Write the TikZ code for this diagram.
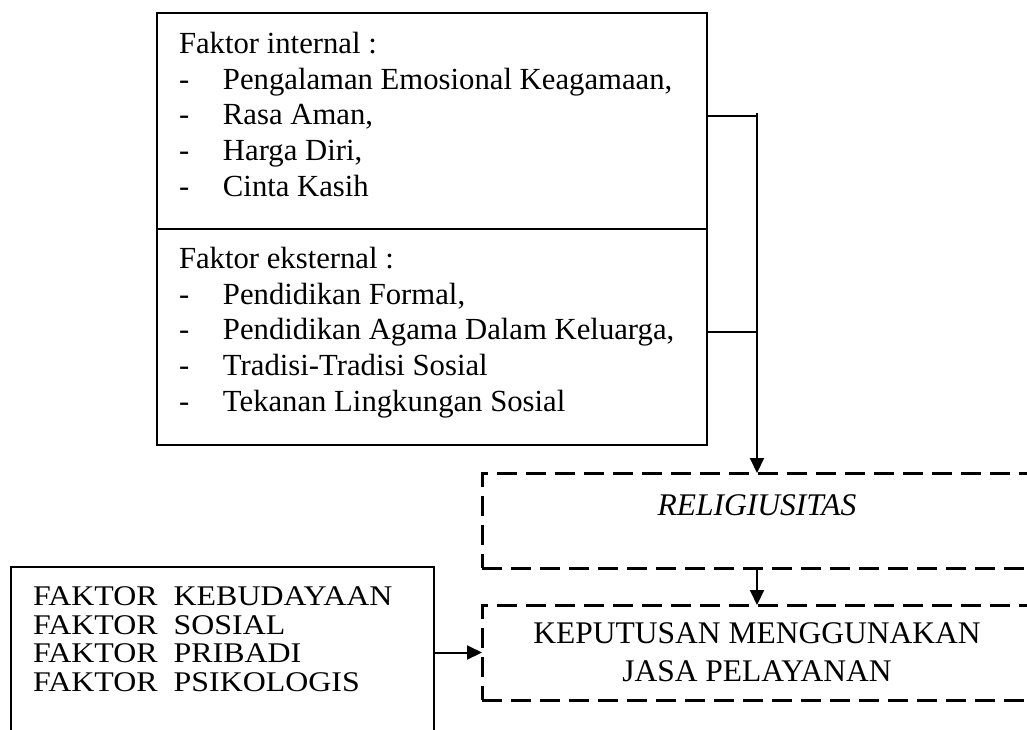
\documentclass[tikz,border=0pt]{standalone}
\usepackage{fontspec}
\setmainfont{Liberation Serif}
\newfontfamily\lebar{Liberation Serif}[FakeStretch=1.12]
\usetikzlibrary{arrows.meta}
\usetikzlibrary{positioning}
\tikzstyle{kotak} = [rectangle, draw, line width=2pt, inner sep=0pt, outer sep=0pt]
\tikzstyle{putus} = [rectangle, draw, line width=3pt, dash pattern=on 20pt off 9pt,
    inner sep=0pt, outer sep=0pt, minimum width=550pt, minimum height=95pt]
\tikzstyle{isi} = [anchor=north west, align=left, inner sep=0pt,
    font=\fontsize{30.7}{35.7}\selectfont]
\newcommand{\butir}[1]{\makebox[44pt][l]{-}#1}

\begin{document}
\begin{tikzpicture}[x=1pt,y=1pt,line width=2pt,
                    >={Triangle[length=15pt,width=14pt]}]
  \useasboundingbox (0,0) rectangle (1027,-729);
  \clip (0,0) rectangle (1027,-729);

  % faktor internal dan eksternal
  \node[kotak, anchor=north west, minimum width=550pt, minimum height=216pt] (intern) at (157,-13) {};
  \node[kotak, below=0pt of intern, minimum width=550pt, minimum height=216pt] (ekstern) {};
  \node[isi] (internteks) at (178,-31) {Faktor internal :\\
    \butir{Pengalaman Emosional Keagamaan,}\\
    \butir{Rasa Aman,}\\
    \butir{Harga Diri,}\\
    \butir{Cinta Kasih}};
  \node[isi] (eksternteks) at (178,-246) {Faktor eksternal :\\
    \butir{Pendidikan Formal,}\\
    \butir{Pendidikan Agama Dalam Keluarga,}\\
    \butir{Tradisi-Tradisi Sosial}\\
    \butir{Tekanan Lingkungan Sosial}};

  % kotak putus-putus
  \node[putus, text height=42pt, text depth=53pt,
        font=\fontsize{31.5}{38}\selectfont\itshape] (relig) at (757,-520.5) {RELIGIUSITAS};
  \node[putus, below=37pt of relig, align=center,
        font=\fontsize{31.5}{38}\selectfont] (keputusan) {KEPUTUSAN MENGGUNAKAN\\JASA PELAYANAN};

  % faktor kebudayaan dst
  \node[kotak, anchor=north west, minimum width=423pt, minimum height=200pt] (budaya) at (11,-567) {};
  \node[isi, font=\lebar\fontsize{28.5}{28.5}\selectfont] (budayateks) at (32,-586) {FAKTOR\ \ KEBUDAYAAN\\
    FAKTOR\ \ SOSIAL\\
    FAKTOR\ \ PRIBADI\\
    FAKTOR\ \ PSIKOLOGIS};

  \coordinate (a1) at ([yshift=5pt]intern.east);
  \coordinate (a2) at ([yshift=5pt]ekstern.east);
  \draw (a1) -- (a1 -| relig.north);
  \draw (a2) -- (a2 -| relig.north);
  \draw[->] ([yshift=3pt]a1 -| relig.north) -- (relig.north);
  \draw[->] (relig.south) -- (keputusan.north);
  \draw[->] (budaya.east |- keputusan.west) -- (keputusan.west);
\end{tikzpicture}
\end{document}
